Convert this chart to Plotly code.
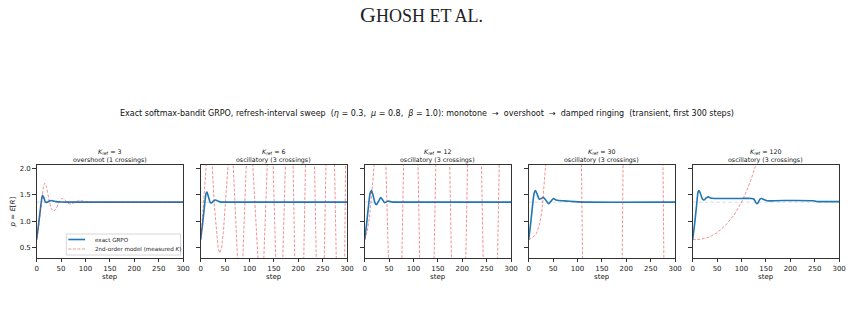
import plotly.graph_objects as go

# ---------------- data ----------------
K_REF = [3, 6, 12, 30, 120]
REGIME = ["overshoot (1 crossings)", "oscillatory (3 crossings)", "oscillatory (3 crossings)",
          "oscillatory (3 crossings)", "oscillatory (3 crossings)"]
P_STAR = 1.36
STEP_TICKS = [0, 50, 100, 150, 200, 250, 300]
P_TICKS = [0.5, 1.0, 1.5, 2.0]
LEGEND_LABELS = ["exact GRPO", "2nd-order model (measured <i>K</i>)"]

# exact GRPO (blue)
grpo_s_k3 = [0, 3, 6, 9, 12, 15, 18, 22, 26, 30, 35, 40, 50, 60, 80, 300]
grpo_v_k3 = [0.65, 0.87, 1.10, 1.33, 1.49, 1.44, 1.36, 1.36, 1.38, 1.39, 1.38, 1.37, 1.362, 1.36, 1.36, 1.36]

grpo_s_k6 = [0, 4, 8, 11, 13, 16, 20, 23, 27, 31, 35, 40, 50, 300]
grpo_v_k6 = [0.65, 0.95, 1.30, 1.52, 1.55, 1.46, 1.35, 1.35, 1.39, 1.40, 1.38, 1.365, 1.36, 1.36]

grpo_s_k12 = [0, 4, 8, 11, 14, 17, 21, 24, 28, 33, 37, 41, 45, 49, 55, 65, 300]
grpo_v_k12 = [0.65, 0.95, 1.30, 1.52, 1.58, 1.50, 1.35, 1.31, 1.37, 1.445, 1.40, 1.35, 1.37, 1.38, 1.365, 1.36, 1.36]

grpo_s_k30 = [0, 4, 8, 11, 14, 17, 22, 26, 30, 35, 41, 46, 51, 56, 62, 73, 94, 115, 300]
grpo_v_k30 = [0.65, 0.95, 1.30, 1.52, 1.58, 1.52, 1.415, 1.43, 1.45, 1.40, 1.33, 1.38, 1.43, 1.40, 1.39, 1.385, 1.37, 1.36, 1.36]

grpo_s_k120 = [0, 4, 8, 11, 13, 16, 20, 23, 28, 32, 36, 45, 60, 100, 120, 125, 128, 131, 134, 138, 141,
               146, 153, 160, 187, 248, 255, 262, 300]
grpo_v_k120 = [0.65, 0.95, 1.30, 1.55, 1.58, 1.52, 1.42, 1.40, 1.44, 1.46, 1.44, 1.43, 1.43, 1.43, 1.43, 1.42,
               1.38, 1.33, 1.35, 1.42, 1.43, 1.41, 1.385, 1.385, 1.39, 1.385, 1.37, 1.37, 1.37]

# 2nd-order model, measured K (red dashed) - values beyond the axis range are clipped
model_s_k3 = [0, 5, 10, 14, 17, 20, 25, 30, 35, 40, 45, 50, 53, 57, 62, 66, 70, 75, 80, 88, 95, 105, 120, 300]
model_v_k3 = [0.65, 0.95, 1.35, 1.65, 1.72, 1.65, 1.42, 1.24, 1.19, 1.24, 1.34, 1.42, 1.43, 1.41, 1.36, 1.33,
              1.325, 1.34, 1.37, 1.39, 1.38, 1.36, 1.36, 1.36]

model_s_k6 = [0, 4, 8, 11, 13, 21, 24, 28, 32, 36, 39, 43, 47, 51, 55, 58,
              66, 76, 86, 94, 106, 118, 129, 137, 148, 154, 168, 174, 189, 193, 211, 215,
              233, 237, 253, 257, 274, 278, 295, 297]
model_v_k6 = [0.65, 1.05, 1.60, 2.00, 2.30, 2.30, 2.00, 1.30, 0.80, 0.48, 0.40, 0.50, 0.85, 1.40, 1.90, 2.30,
              2.20, 0.20, 0.20, 2.20, 2.20, 0.20, 0.20, 2.20, 2.20, 0.20, 0.20, 2.20, 2.20, 0.20, 0.20, 2.20,
              2.20, 0.20, 0.20, 2.20, 2.20, 0.20, 0.20, 2.20]

model_s_k12 = [0, 5, 10, 14, 17, 20, 43, 49, 76, 80, 109, 113, 142, 146, 174, 178, 207, 211, 239, 243, 272, 276]
model_v_k12 = [0.65, 0.80, 1.08, 1.45, 1.78, 2.15, 2.20, 0.20, 0.20, 2.20, 2.20, 0.20, 0.20, 2.20, 2.20, 0.20,
               0.20, 2.20, 2.20, 0.20, 0.20, 2.20]

model_s_k30 = [0, 9, 16, 22, 27, 31, 35, 37, 108, 110.5, 191.5, 193.5, 275, 277]
model_v_k30 = [0.65, 0.70, 0.77, 0.93, 1.18, 1.59, 2.06, 2.30, 2.20, 0.20, 0.20, 2.20, 2.20, 0.20]

model_s_k120 = [0, 17, 34, 51, 68, 85, 100, 110, 120, 128, 132]
model_v_k120 = [0.65, 0.66, 0.70, 0.79, 0.93, 1.12, 1.36, 1.56, 1.80, 2.03, 2.15]

GRPO = [(grpo_s_k3, grpo_v_k3), (grpo_s_k6, grpo_v_k6), (grpo_s_k12, grpo_v_k12),
        (grpo_s_k30, grpo_v_k30), (grpo_s_k120, grpo_v_k120)]
MODEL = [(model_s_k3, model_v_k3), (model_s_k6, model_v_k6), (model_s_k12, model_v_k12),
         (model_s_k30, model_v_k30), (model_s_k120, model_v_k120)]

# ---------------- layout ----------------
W, H = 859, 325
FONT = "DejaVu Sans"
BLUE = "#1f77b4"
RED = "rgba(214,39,40,0.55)"
GRAY = "rgba(150,150,150,0.55)"
AX = "#333333"
RED_DASH = "3px,1.6px"

left_px = [35, 200.75, 366.5, 532.25, 698]
panel_w = 148
y_top_px, y_bot_px = 165, 258
ydom = [1 - y_bot_px / H, 1 - y_top_px / H]


def px(xp):
    return xp / W


def py(yp):
    return 1 - yp / H


def text(t, x, y, size, xanchor="center", angle=0, family=FONT, color="#111"):
    return dict(text=t, x=x, y=y, xref="paper", yref="paper", xanchor=xanchor, yanchor="middle",
                textangle=angle, showarrow=False, font=dict(family=family, size=size, color=color))


fig = go.Figure()
annotations = []
shapes = []
for i in range(5):
    sfx = "" if i == 0 else str(i + 1)
    xa, ya = "x" + sfx, "y" + sfx
    fig.add_trace(go.Scatter(x=[STEP_TICKS[0], STEP_TICKS[-1]], y=[P_STAR, P_STAR], mode="lines",
                             line=dict(color=GRAY, width=0.7, dash="dot"), showlegend=False,
                             hoverinfo="skip", xaxis=xa, yaxis=ya))
    gs, gv = GRPO[i]
    fig.add_trace(go.Scatter(x=gs, y=gv, mode="lines", name="exact GRPO",
                             line=dict(color=BLUE, width=1.6, shape="spline", smoothing=0.6),
                             showlegend=False, xaxis=xa, yaxis=ya))
    ms, mv = MODEL[i]
    fig.add_trace(go.Scatter(x=ms, y=mv, mode="lines", name="2nd-order model",
                             line=dict(color=RED, width=0.9, dash=RED_DASH,
                                       shape="spline" if i == 0 else "linear", smoothing=0.6),
                             showlegend=False, xaxis=xa, yaxis=ya))
    x0 = px(left_px[i])
    x1 = px(left_px[i] + panel_w)
    axis_common = dict(showgrid=False, zeroline=False, showline=True, mirror=True, linecolor=AX,
                       linewidth=0.8, ticks="outside", ticklen=3.5, tickwidth=0.8, tickcolor=AX,
                       tickfont=dict(family=FONT, size=7, color="#222"))
    fig.layout["xaxis" + sfx] = dict(domain=[x0, x1], range=[0, 300], tickvals=STEP_TICKS,
                                     anchor=ya, **axis_common)
    fig.layout["yaxis" + sfx] = dict(domain=ydom, range=[0.305, 2.062], tickvals=P_TICKS,
                                     ticktext=[f"{v:.1f}" for v in P_TICKS],
                                     showticklabels=(i == 0), anchor=xa, **axis_common)
    cx = (x0 + x1) / 2
    annotations.append(text(f"<i>K</i><sub>ref</sub> = {K_REF[i]}", cx, py(151.5), 6.3))
    annotations.append(text(REGIME[i], cx, py(159.5), 6.3))
    annotations.append(text("step", cx, py(277), 7))

# legend (drawn in panel 1, lower right)
shapes.append(dict(type="rect", xref="paper", yref="paper", x0=px(65), x1=px(180.5), y0=py(255), y1=py(234),
                   line=dict(color="#cccccc", width=0.8), fillcolor="rgba(255,255,255,0.85)", layer="above"))
shapes.append(dict(type="line", xref="paper", yref="paper", x0=px(67), x1=px(84), y0=py(239.5), y1=py(239.5),
                   line=dict(color=BLUE, width=1.6), layer="above"))
shapes.append(dict(type="line", xref="paper", yref="paper", x0=px(67), x1=px(84), y0=py(249), y1=py(249),
                   line=dict(color=RED, width=0.9, dash=RED_DASH), layer="above"))
for k, yy in enumerate([239.5, 249]):
    annotations.append(text(LEGEND_LABELS[k], px(92), py(yy), 5.6, xanchor="left", color="#222"))

annotations.append(text("<i>p</i> = <i>E</i>[<i>R</i>]", px(11), (ydom[0] + ydom[1]) / 2, 7, angle=-90))
annotations.append(text(
    "Exact softmax-bandit GRPO, refresh-interval sweep  (<i>η</i> = 0.3,  <i>μ</i> = 0.8,  "
    "<i>β</i> = 1.0): monotone  →  overshoot  →  damped ringing  (transient, first 300 steps)",
    px(429.5), py(113), 8))
annotations.append(text("G<span style='font-size:18px'>HOSH ET AL.</span>", px(424), py(14), 22,
                        family="Liberation Serif", color="#222"))

fig.update_layout(
    width=W, height=H, margin=dict(l=0, r=0, t=0, b=0),
    paper_bgcolor="white", plot_bgcolor="white",
    annotations=annotations, shapes=shapes, showlegend=False,
)

fig.write_html("out.html")
